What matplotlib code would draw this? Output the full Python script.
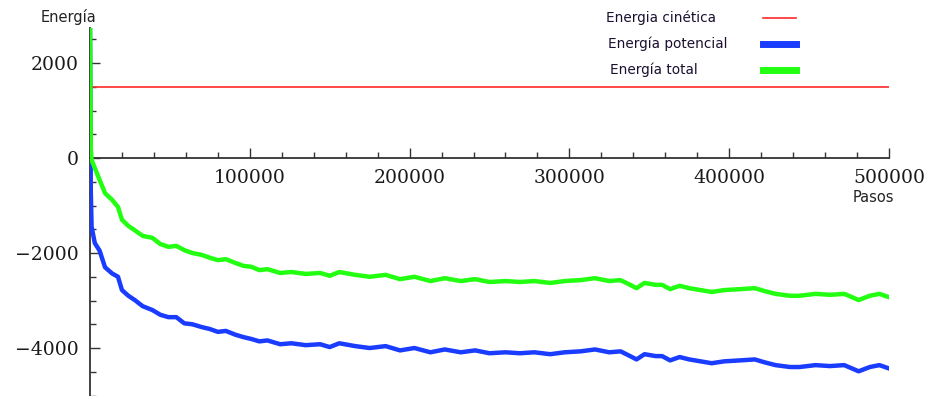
import numpy as np
import matplotlib.pyplot as plt
from matplotlib.ticker import MultipleLocator, FuncFormatter
from matplotlib.lines import Line2D

pasos = [0, 500, 1000, 3000, 6000, 9400, 13800, 17500, 20000, 24000, 28000,
         33000, 39000, 44000, 49000, 54000, 59000, 64000, 70000, 75000, 80000,
         85000, 91000, 96000, 101000, 106000, 111000, 119000, 126000, 135000,
         144000, 150000, 156000, 166000, 175000, 185000, 194000, 203000,
         213000, 222000, 232000, 241000, 250000, 260000, 269000, 278000,
         288000, 297000, 307000, 316000, 325000, 332000, 338000, 342000,
         347000, 354000, 358000, 363000, 369000, 375000, 382000, 389000,
         397000, 407000, 416000, 422000, 429000, 438000, 444000, 454000,
         463000, 472000, 481000, 488000, 494000, 500000]

energia_total = [2800, 200, -40, -210, -460, -740, -880, -1030, -1300, -1430,
                 -1520, -1640, -1680, -1810, -1870, -1850, -1940, -2000, -2040,
                 -2100, -2150, -2130, -2210, -2270, -2290, -2360, -2340, -2420,
                 -2400, -2440, -2420, -2480, -2400, -2460, -2500, -2460, -2550,
                 -2500, -2590, -2530, -2590, -2550, -2610, -2590, -2610, -2590,
                 -2630, -2590, -2570, -2530, -2590, -2570, -2670, -2740, -2630,
                 -2670, -2670, -2760, -2690, -2740, -2780, -2820, -2780, -2760,
                 -2740, -2800, -2860, -2900, -2900, -2860, -2880, -2860, -2990,
                 -2900, -2860, -2930]

energia_potencial = [2800, -700, -1450, -1790, -1950, -2300, -2430, -2500,
                     -2780, -2900, -2990, -3120, -3200, -3300, -3350, -3350,
                     -3480, -3500, -3560, -3600, -3660, -3640, -3720, -3770,
                     -3810, -3860, -3840, -3920, -3900, -3940, -3920, -3980,
                     -3900, -3960, -4000, -3960, -4050, -4000, -4090, -4030,
                     -4090, -4050, -4110, -4090, -4110, -4090, -4130, -4090,
                     -4070, -4030, -4090, -4070, -4170, -4240, -4130, -4170,
                     -4170, -4260, -4190, -4240, -4280, -4320, -4280, -4260,
                     -4240, -4300, -4360, -4400, -4400, -4360, -4380, -4360,
                     -4490, -4400, -4360, -4430]

energia_cinetica = 1500

etiquetas = ['Energia cinética', 'Energía potencial', 'Energía total']
colores = ['#ff2a2a', '#1a3cff', '#22ff10']

fig = plt.figure(figsize=(9.3, 3.96), dpi=100)
ax = fig.add_axes([90 / 930, 0, 799 / 930, 368 / 396])

ax.plot(pasos, energia_potencial, color=colores[1], lw=3.2, solid_joinstyle='round',
        zorder=3)
ax.plot(pasos, energia_total, color=colores[2], lw=3.2, solid_joinstyle='round',
        zorder=3)
ax.plot([0, 500000], [energia_cinetica, energia_cinetica], color=colores[0], lw=1.2,
        zorder=2)

ax.set_xlim(0, 500000)
ax.set_ylim(-5010, 2737)

# Mathematica style axes crossing at the origin
for s in ['top', 'right']:
    ax.spines[s].set_visible(False)
ax.spines['bottom'].set_position(('data', 0))
ax.spines['bottom'].set_zorder(1)
for s in ['bottom', 'left']:
    ax.spines[s].set_color('#333333')
    ax.spines[s].set_linewidth(1.3)

ax.xaxis.set_major_locator(MultipleLocator(100000))
ax.xaxis.set_minor_locator(MultipleLocator(20000))
ax.yaxis.set_major_locator(MultipleLocator(2000))
ax.yaxis.set_minor_locator(MultipleLocator(500))

ax.xaxis.set_major_formatter(FuncFormatter(lambda v, p: '' if v == 0 else '%d' % v))
ax.yaxis.set_major_formatter(FuncFormatter(
    lambda v, p: ('\u2212%d' % -v) if v < 0 else '%d' % v))

ax.tick_params(axis='both', which='both', direction='in', color='#333333', width=1.0)
ax.tick_params(axis='both', which='major', length=7)
ax.tick_params(axis='both', which='minor', length=4)
ax.tick_params(axis='x', which='major', pad=8)
ax.tick_params(axis='y', which='major', pad=8)
for lab in ax.get_xticklabels() + ax.get_yticklabels():
    lab.set_fontfamily('DejaVu Serif')
    lab.set_fontsize(13.5)
    lab.set_color('#1a1a1a')

fig.text(68 / 930, 1 - 17 / 396, 'Energía', ha='center', va='center',
         fontsize=10.5, color='#222222')
fig.text(873 / 930, 1 - 198 / 396, 'Pasos', ha='center', va='center',
         fontsize=10.5, color='#222222')

# legend drawn by hand: label on the left, short line on the right
filas_y = [18, 44, 70]
filas_x = [606, 608, 610]
for i in range(3):
    fig.text(filas_x[i] / 930, 1 - filas_y[i] / 396, etiquetas[i], ha='left',
             va='center', fontsize=9.8, color='#1c1030')
    fig.add_artist(Line2D([763 / 930, 796 / 930],
                          [1 - filas_y[i] / 396, 1 - filas_y[i] / 396],
                          color=colores[i], lw=1.2 if i == 0 else 5,
                          transform=fig.transFigure))

fig.savefig('out.png', dpi=100)
